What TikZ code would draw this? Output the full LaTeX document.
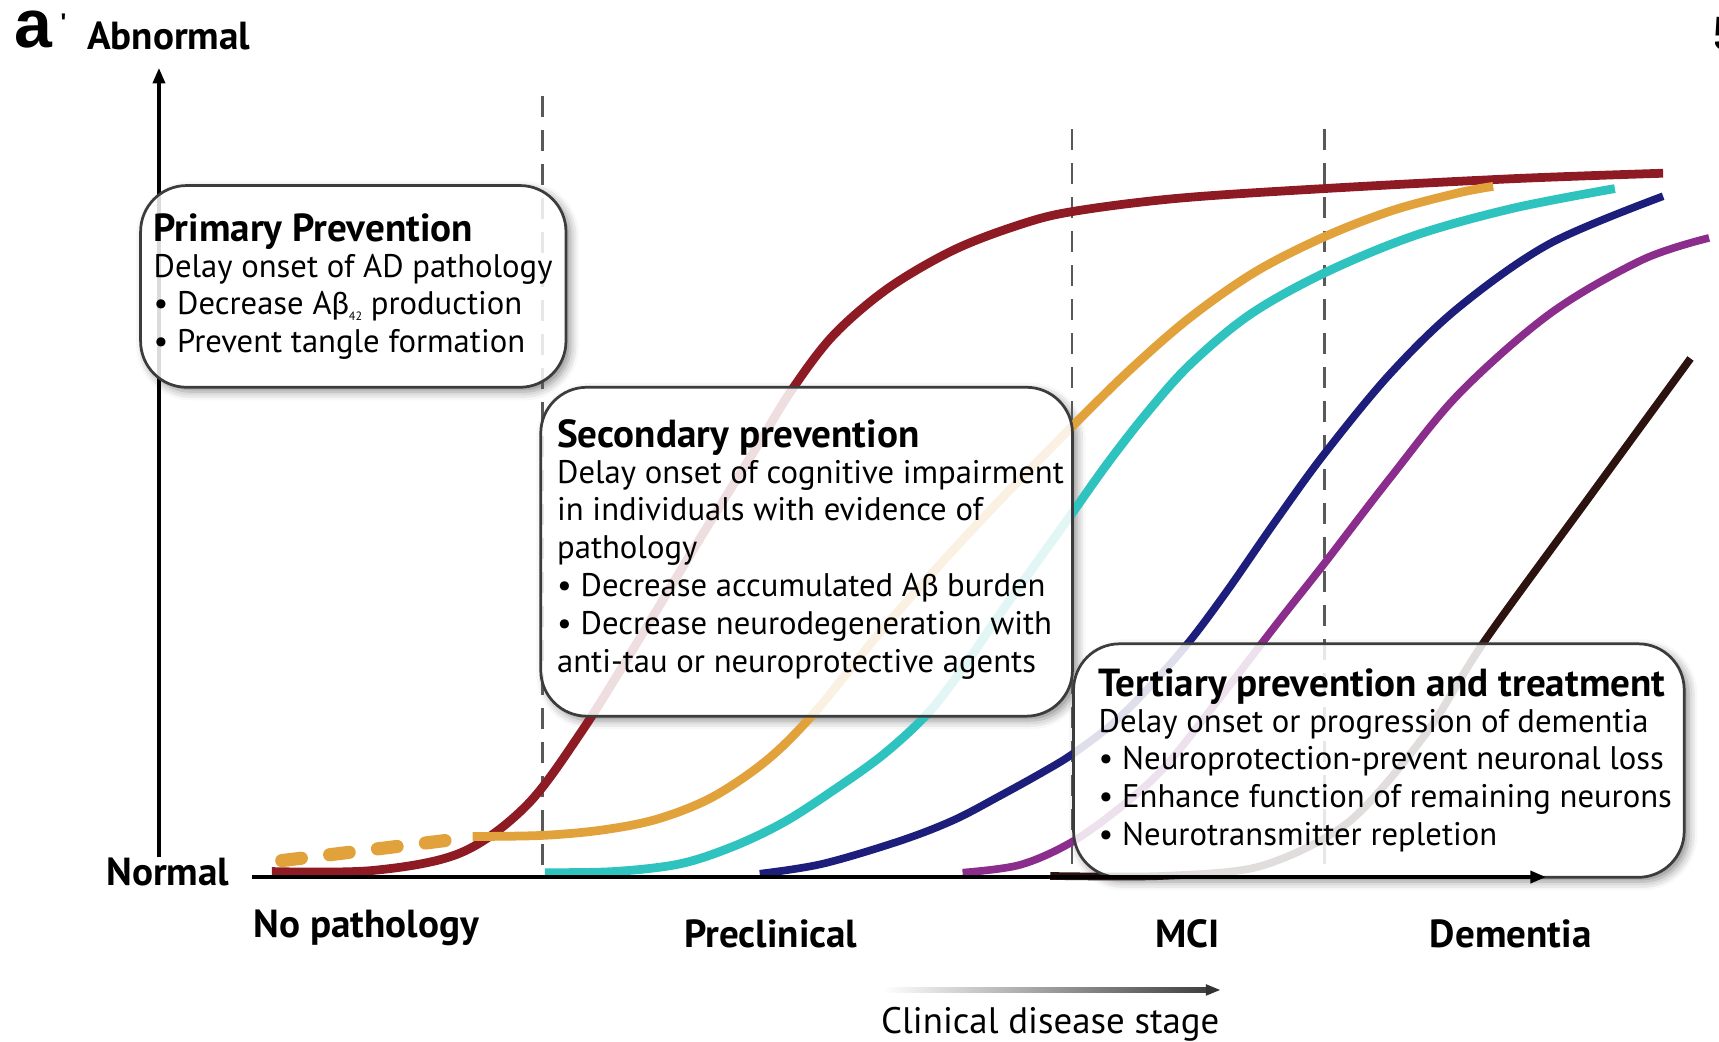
\documentclass[tikz,border=0pt]{standalone}
\usepackage{fontspec}
\setmainfont{PT Sans}
\newfontfamily\grk{Carlito}
\newfontfamily\helv{Liberation Sans}
\usetikzlibrary{calc,arrows.meta,shadows.blur}

\definecolor{cred}{HTML}{8E1B24}
\definecolor{corange}{HTML}{E2A23B}
\definecolor{ccyan}{HTML}{2FC3BF}
\definecolor{cnavy}{HTML}{1D1D7C}
\definecolor{cpurple}{HTML}{8B2D8C}
\definecolor{cbrown}{HTML}{2C130F}
\definecolor{boxline}{HTML}{3C3C3C}

\newcommand{\bodyfont}{\fontsize{29.8}{34.5}\selectfont}
\newcommand{\headfont}{\fontsize{35.7}{40}\selectfont\bfseries}
\newcommand{\Abeta}{A{\grk β}}
\newcommand{\subff}[1]{\raisebox{-5pt}{\fontsize{11}{11}\selectfont #1}}

\begin{document}
\begin{tikzpicture}[x=1pt,y=-1pt,
  curve/.style={line width=8pt},
  thincurve/.style={line width=7pt},
  stagedash/.style={draw=black!65, line width=2.2pt, dash pattern=on 19pt off 12pt},
  boxshape/.style={rounded corners=42pt, inner sep=0pt, anchor=north west},
  boxback/.style={boxshape, fill=white,
    blur shadow={shadow xshift=5pt, shadow yshift=-5pt, shadow blur radius=8pt, shadow opacity=45}},
  infobox/.style={boxshape, draw=boxline, line width=2.5pt, fill=white, fill opacity=0.86, draw opacity=1},
  boxtext/.style={anchor=north west, inner sep=0pt, align=left, font=\bodyfont},
  boxhead/.style={anchor=base west, inner sep=0pt, font=\headfont},
  axislabel/.style={font=\headfont, inner sep=0pt},
  axisarrow/.style={line width=3pt, -{Triangle[length=14pt,width=11pt]}},
]
\useasboundingbox (0,0) rectangle (1568,950);

% box backgrounds with their shadows
\node[boxback, minimum width=388pt, minimum height=184pt] (pboxbg) at (127,168) {};
\node[boxback, minimum width=485pt, minimum height=300pt] (sboxbg) at (492,352) {};
\node[boxback, minimum width=557pt, minimum height=213pt] (tboxbg) at (978,586) {};

% stage separators
\coordinate (d1t) at (495,88);  \coordinate (d1b) at (495,800);
\coordinate (d2t) at (978,118); \coordinate (d2b) at (978,800);
\coordinate (d3t) at (1208,118); \coordinate (d3b) at (1208,800);
\draw[stagedash] (d1t) -- (d1b);
\draw[stagedash] (d2t) -- (d2b);
\draw[stagedash] (d3t) -- (d3b);

% curves
\draw[curve, cred] plot[smooth, tension=0.55] coordinates {
  (248,795) (340,794) (420,778) (480,735) (530,668) (580,588) (635,497)
  (690,408) (722,356) (760,306) (810,263) (870,228) (930,205) (978,193)
  (1073,181) (1208,172) (1380,163) (1517,158)};
\draw[line width=12pt, corange, line cap=round, dash pattern=on 18pt off 26pt]
  (257,785) -- (412,766);
\draw[curve, corange] plot[smooth, tension=0.55] coordinates {
  (431,763) (495,762) (550,757) (600,747) (650,727) (700,693) (743,650)
  (800,580) (860,512) (920,448) (978,389) (1030,338) (1085,290) (1145,248)
  (1208,216) (1270,192) (1330,176) (1362,170)};
\draw[curve, ccyan] plot[smooth, tension=0.55] coordinates {
  (497,796) (560,795) (620,788) (669,772) (715,750) (760,721) (806,688)
  (847,650) (880,607) (910,563) (945,514) (978,468) (1010,423) (1045,378)
  (1085,333) (1140,287) (1208,249) (1290,215) (1380,190) (1473,172)};
\draw[thincurve, cnavy] plot[smooth, tension=0.55] coordinates {
  (693,797) (750,788) (821,767) (870,748) (912,726) (950,705) (978,688)
  (1015,660) (1050,625) (1085,585) (1120,538) (1163,476) (1208,414)
  (1268,341) (1331,280) (1414,222) (1517,179)};
\draw[thincurve, cpurple] plot[smooth, tension=0.55] coordinates {
  (878,796) (930,789) (976,769) (1020,738) (1062,700) (1110,640) (1167,566)
  (1208,514) (1268,436) (1331,359) (1414,286) (1498,237) (1559,217)};
\draw[thincurve, cbrown] plot[smooth, tension=0.5] coordinates {
  (958,799) (1060,799) (1150,790) (1230,750) (1300,670) (1354,585)
  (1450,453) (1542,327)};

% y axis
\coordinate (yo) at (145,782); \coordinate (ytip) at (145,62);
\draw[axisarrow] (yo) -- (ytip);

% boxes (translucent fronts)
\node[infobox, minimum width=388pt, minimum height=184pt] (pbox) at (127,168) {};
\node[infobox, minimum width=485pt, minimum height=300pt] (sbox) at (492,352) {};
\node[infobox, minimum width=557pt, minimum height=213pt] (tbox) at (978,586) {};

\node[boxhead] (phead) at (140,220) {Primary Prevention};
\node[boxtext] (ptext) at (140,228.35) {\strut Delay onset of AD pathology\\
  • Decrease \Abeta\subff{42} production\\
  • Prevent tangle formation};
\node[boxhead] (shead) at (508,408) {Secondary prevention};
\node[boxtext] (stext) at (508,416.35) {\strut Delay onset of cognitive impairment\\
  in individuals with evidence of\\
  pathology\\
  • Decrease accumulated \Abeta\ burden\\
  • Decrease neurodegeneration with\\
  anti-tau or neuroprotective agents};
\node[boxhead] (thead) at (1002,635) {Tertiary prevention and treatment};
\node[boxtext] (ttext) at (1002,643.35) {\strut Delay onset or progression of dementia\\
  • Neuroprotection-prevent neuronal loss\\
  • Enhance function of remaining neurons\\
  • Neurotransmitter repletion};

% x axis
\coordinate (xo) at (230,800); \coordinate (xtip) at (1410,800);
\draw[axisarrow] (xo) -- (xtip);

% labels
\node[axislabel] (abn) at (154,33) {Abnormal};
\node[axislabel] (nrm) at (153,795) {Normal};
\node[axislabel] (nop) at (334,846) {No pathology};
\node[axislabel] (pre) at (703,852) {Preclinical};
\node[axislabel] (mci) at (1083,852) {MCI};
\node[axislabel] (dem) at (1378,852) {Dementia};

% clinical disease stage arrow
\coordinate (ca1) at (805,903); \coordinate (ca2) at (1100,903); \coordinate (ca3) at (1113,903);
\shade[left color=white, right color=black!75] ($(ca1)+(0,-2.5)$) rectangle ($(ca2)+(0,2.5)$);
\draw[line width=2pt, black!80, -{Triangle[length=13pt,width=10pt]}] (ca2) -- (ca3);
\node[font=\fontsize{33.6}{38}\selectfont, inner sep=0pt] (cds) at (958,934) {Clinical disease stage};

% panel label
\node[font=\helv\bfseries\fontsize{62}{64}\selectfont, inner sep=0pt, anchor=base west] (lbl) at (13,43) {a};
\node[font=\helv\bfseries\fontsize{22}{22}\selectfont, inner sep=0pt, anchor=base west] (tick) at (55,28) {'};
\begin{scope}
  \clip (1565,0) rectangle (1568,60);
  \node[font=\helv\bfseries\fontsize{44}{44}\selectfont, inner sep=0pt, anchor=base west] (nextlbl) at (1563,46) {5};
\end{scope}
\end{tikzpicture}
\end{document}
